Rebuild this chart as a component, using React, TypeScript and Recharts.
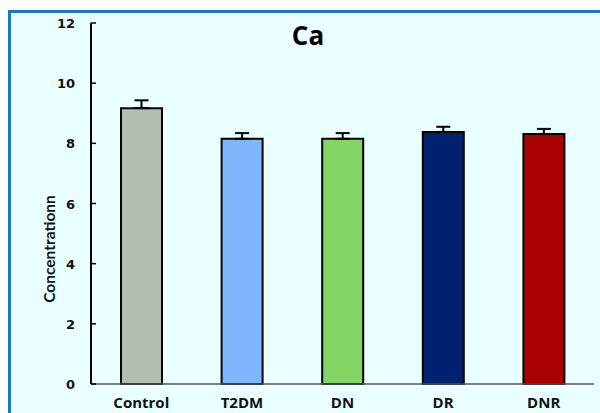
import { BarChart, Bar, XAxis, YAxis, ErrorBar, Cell, Label } from "recharts"

const groups = ['Control', 'T2DM', 'DN', 'DR', 'DNR']
const caValues = [9.17, 8.15, 8.15, 8.38, 8.31]
const caErrors = [0.26, 0.19, 0.19, 0.17, 0.17]
const yTicks = [0, 2, 4, 6, 8, 10, 12]

const COLORS = ['#b5beb3', '#80b7fc', '#85d466', '#002070', '#a80000']

const data = groups.map((name, i) => ({ name, value: caValues[i], err: [0, caErrors[i]] }))

const YTick = (props: any) => {
  const { x, y, payload } = props
  return (
    <g>
      <line x1={x + 16} x2={x + 21} y1={y} y2={y} stroke="#000" strokeWidth={1.5} />
      <text x={x} y={y} dy={5} textAnchor="end" fontFamily="DejaVu Sans" fontWeight={700} fontSize={13} fill="#111">
        {payload.value}
      </text>
    </g>
  )
}

const XTick = (props: any) => {
  const { x, y, payload } = props
  return (
    <text x={x} y={y} dy={16} textAnchor="middle" fontFamily="Open Sans" fontWeight={700} fontSize={15} fill="#111">
      {payload.value}
    </text>
  )
}

function App() {
  return (
    <div style={{ position: 'fixed', left: 0, top: 0, width: 600, height: 413, background: '#fff', overflow: 'hidden' }}>
      <div
        style={{
          position: 'absolute', left: 8, top: 10, width: 592, height: 403,
          background: '#eaffff', borderTop: '3px solid #1a78c8', borderLeft: '3px solid #1a78c8',
        }}
      />
      <div style={{ position: 'absolute', left: 0, top: 0 }}>
        <BarChart width={600} height={413} data={data} margin={{ top: 23, right: 6, left: 0, bottom: 0 }}>
          <text x={308} y={45} textAnchor="middle" fontFamily="Open Sans" fontWeight={700} fontSize={26} fill="#000">
            Ca
          </text>
          <XAxis
            dataKey="name"
            height={29}
            tickLine={false}
            tick={<XTick />}
            axisLine={{ stroke: '#555', strokeWidth: 1.5 }}
          />
          <YAxis
            width={91}
            domain={[0, 12]}
            ticks={yTicks}
            tickLine={false}
            tickSize={0}
            tickMargin={16}
            tick={<YTick />}
            axisLine={{ stroke: '#000', strokeWidth: 2 }}
          >
            <Label
              content={() => (
                <text
                  transform="translate(55, 249) rotate(-90)"
                  textAnchor="middle"
                  fontFamily="Lato"
                  fontWeight={700}
                  fontSize={15.5}
                  fill="#111"
                >
                  Concentrationn
                </text>
              )}
            />
          </YAxis>
          <Bar dataKey="value" barSize={41} stroke="#000" strokeWidth={2} isAnimationActive={false}>
            {data.map((_, i) => (
              <Cell key={i} fill={COLORS[i % COLORS.length]} />
            ))}
            <ErrorBar dataKey="err" direction="y" width={7} stroke="#000" strokeWidth={2} />
          </Bar>
        </BarChart>
      </div>
    </div>
  )
}

export default App
